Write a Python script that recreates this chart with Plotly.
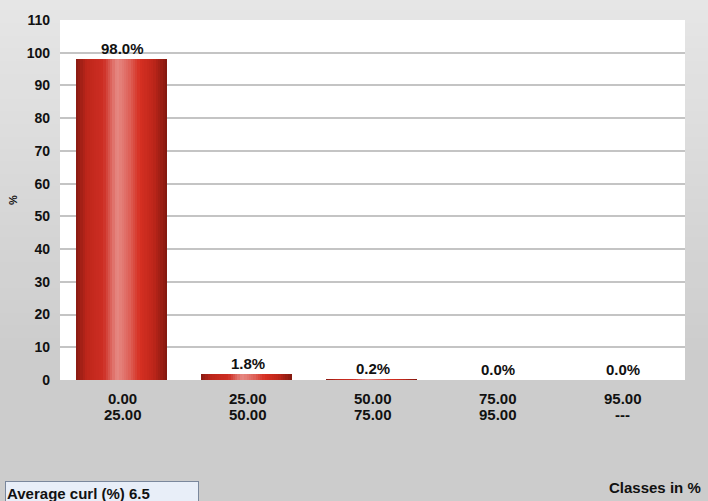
import plotly.graph_objects as go

# ---- data ----
class_low = ["0.00", "25.00", "50.00", "75.00", "95.00"]
class_high = ["25.00", "50.00", "75.00", "95.00", "---"]
values = [98.0, 1.8, 0.2, 0.0, 0.0]
value_labels = ["98.0%", "1.8%", "0.2%", "0.0%", "0.0%"]
average_curl = 6.5
y_ticks = list(range(0, 111, 10))

FONT = "Arial, Liberation Sans, sans-serif"
x_pos = list(range(len(values)))

# ---- cylinder-like bar gradient (style) ----
stops = [(0.0, (135, 26, 18)), (0.12, (190, 38, 26)), (0.30, (205, 45, 35)),
         (0.45, (230, 138, 132)), (0.58, (222, 100, 92)), (0.70, (214, 48, 34)),
         (0.85, (190, 38, 26)), (1.0, (128, 24, 14))]

def grad(t):
    for (t0, c0), (t1, c1) in zip(stops[:-1], stops[1:]):
        if t0 <= t <= t1:
            f = (t - t0) / (t1 - t0)
            return "rgb(%d,%d,%d)" % tuple(round(a + (b - a) * f) for a, b in zip(c0, c1))
    return "rgb(%d,%d,%d)" % stops[-1][1]

N = 40
bar_w = 0.73
strip = bar_w / N
fig = go.Figure()
for i in range(N):
    fig.add_trace(go.Bar(
        x=x_pos, y=values, width=strip * 1.15, offset=-bar_w / 2 - 0.008 + i * strip,
        marker=dict(color=grad((i + 0.5) / N), line=dict(width=0)),
        hoverinfo="skip", showlegend=False))

for xv, v, lab in zip(x_pos, values, value_labels):
    fig.add_annotation(x=xv, y=v, text=f"<b>{lab}</b>", showarrow=False,
                       yanchor="bottom", yshift=0,
                       font=dict(family=FONT, size=15, color="#111"))

# two-line class labels under each bar
for xv, lo, hi in zip(x_pos, class_low, class_high):
    fig.add_annotation(x=xv, y=0, yref="paper", text=f"<b>{lo}</b>", showarrow=False,
                       yanchor="middle", yshift=-18,
                       font=dict(family=FONT, size=15, color="#111"))
    fig.add_annotation(x=xv, y=0, yref="paper", text=f"<b>{hi}</b>", showarrow=False,
                       yanchor="middle", yshift=-34,
                       font=dict(family=FONT, size=15, color="#111"))

# ---- background gradient (style) ----
shapes = []
M = 40
for k in range(M):
    y0 = 1 - k / M
    y1 = 1 - (k + 1) / M
    t = min(1.0, k / (M * 0.7))
    g = round(230 - (230 - 204) * t)
    shapes.append(dict(type="rect", xref="paper", yref="paper", layer="below",
                       x0=-0.2, x1=1.1, y0=y1 * 1.4 - 0.34, y1=y0 * 1.4 - 0.34 + 0.002,
                       fillcolor=f"rgb({g},{g},{g})", line=dict(width=0)))
shapes.append(dict(type="rect", xref="paper", yref="paper", layer="below",
                   x0=0, x1=1, y0=0, y1=1, fillcolor="white", line=dict(width=0)))

fig.add_annotation(xref="paper", yref="paper", x=1.0 + 18 / 625, y=-(488 - 380) / 362,
                   text="<b>Classes in %</b>", showarrow=False, xanchor="right",
                   yanchor="middle", font=dict(family=FONT, size=15, color="#111"))
fig.add_annotation(xref="paper", yref="paper", x=-55 / 625, y=-(494 - 380) / 362,
                   text=f"<b>Average curl (%) {average_curl}</b>", showarrow=False,
                   xanchor="left", yanchor="middle", align="left", width=190, height=20,
                   bgcolor="#e8eef8", bordercolor="#7a879c", borderwidth=1, borderpad=1,
                   font=dict(family=FONT, size=15, color="#111"))

fig.update_layout(
    width=708, height=501,
    margin=dict(l=60, r=23, t=18, b=121),
    paper_bgcolor="#d4d4d4", plot_bgcolor="rgba(0,0,0,0)",
    barmode="overlay", bargap=0, shapes=shapes,
    xaxis=dict(range=[-0.5, len(values) - 0.5], tickvals=x_pos, showticklabels=False,
               showgrid=False, zeroline=False, showline=False, ticks=""),
    yaxis=dict(range=[0, 110], tickvals=y_ticks, showgrid=True, gridcolor="#c4c4c4",
               gridwidth=1.5, zeroline=False, showline=False, ticks="",
               ticklabelstandoff=9,
               tickfont=dict(family=FONT, size=14, color="#111", weight="bold"),
               title=dict(text="<b>%</b>", standoff=6, font=dict(family=FONT, size=11, color="#111"))),
)

fig.write_html("out.html", config={"displayModeBar": False},
               post_script="document.body.style.margin='0';document.body.style.overflow='hidden';")
